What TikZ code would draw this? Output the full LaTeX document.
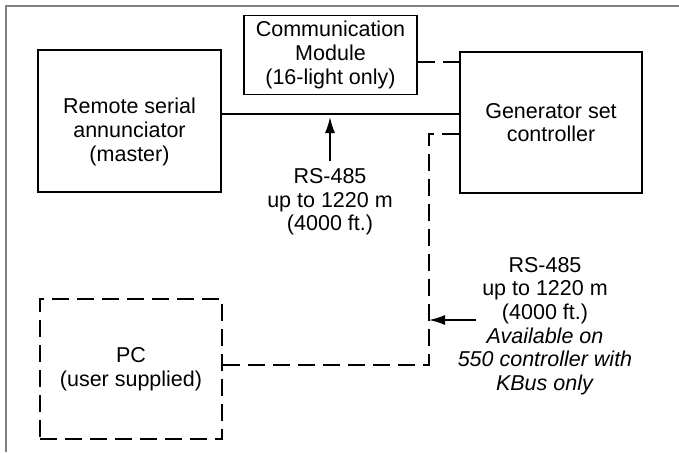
\documentclass[tikz,border=0pt]{standalone}
\usepackage{fontspec}
\setmainfont{Liberation Sans}
\usepackage{tikz}
\usetikzlibrary{arrows.meta}
\usetikzlibrary{positioning}
\tikzset{>=latex}
\tikzstyle{txt} = [draw=none, align=center, inner sep=0, font=\fontsize{21.5}{23.7}\selectfont]
\tikzstyle{box} = [txt, draw=black, line width=1.8pt, rectangle]
\tikzstyle{dbox} = [box, dash pattern=on 17pt off 8pt]
\tikzstyle{link} = [-, line width=1.8pt]
\tikzstyle{dlink} = [link, dash pattern=on 17pt off 8pt]
\tikzstyle{tip} = [-{Latex[length=16pt,width=10pt]}, line width=1.6pt]

\begin{document}
\begin{tikzpicture}[x=1pt, y=-1pt]
\useasboundingbox (0,0) rectangle (679,452);
\draw [draw=gray, line width=2pt] (6,452) -- (6,6) -- (679,6);
%\node [txt] at (330,10) {frame};
\node [box, minimum width=183pt, minimum height=142pt] (R) at (129.5,121) {};
\node [txt] (Rt) at (129.5,132) {Remote serial\\annunciator\\(master)};
\node [box, minimum width=173pt, minimum height=79pt] (C) at (330.5,55) {Communication\\Module\\(16-light only)};
\node [box, minimum width=182pt, minimum height=141pt] (G) at (551,122.5) {Generator set\\controller};
\node [dbox, minimum width=182pt, minimum height=140pt] (P) at (131,369) {PC\\(user supplied)};
\node [txt] (L1) at (330,202) {RS-485\\up to 1220 m\\(4000 ft.)};
\node [txt] (L2) at (545,326) {RS-485\\up to 1220 m\\(4000 ft.)\\\textit{Available on}\\\textit{550 controller with}\\\textit{KBus only}};
\coordinate (bus) at (330,114);
\coordinate (c1) at ([yshift=-7pt]C.east);
\coordinate (g1) at ([yshift=-11.5pt]G.west);
\coordinate (k) at (429,365);
\coordinate (a2) at (476,320);
\draw [link] (R.east |- bus) to (G.west |- bus);
\draw [dlink] (c1) to (c1 -| G.west);
\draw [dlink] (g1) -- (g1 -| k) -- (k) -- (k -| P.east);
\draw [tip, shorten >=3pt] ([yshift=7pt]L1.north) to (L1.north |- bus);
\draw [tip] (a2) to (a2 -| k);
\end{tikzpicture}
\end{document}
